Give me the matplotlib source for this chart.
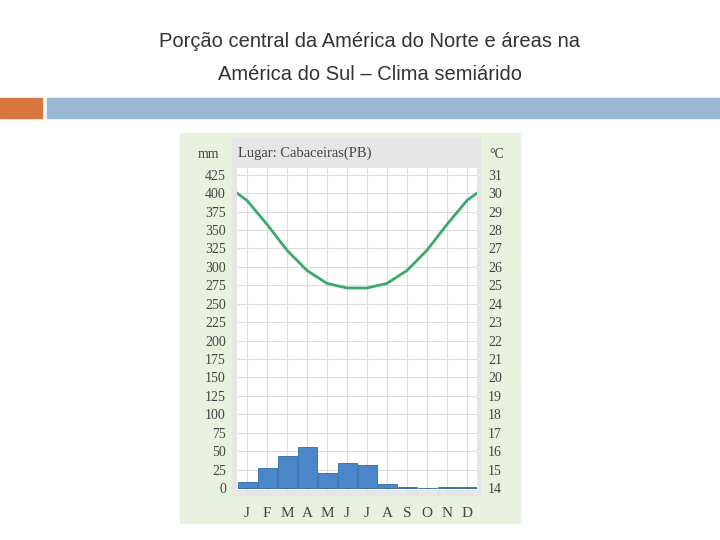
import matplotlib
matplotlib.use("Agg")
import matplotlib.pyplot as plt
from matplotlib.patches import Rectangle
import numpy as np

months = ["J", "F", "M", "A", "M", "J", "J", "A", "S", "O", "N", "D"]
precip = [8, 27, 44, 55, 20, 34, 31, 6, 2, 0, 1, 2]
temp_x = [-0.5, 0, 1, 2, 3, 4, 5, 6, 7, 8, 9, 10, 11, 11.5]
temp = [30.0, 29.6, 28.3, 26.9, 25.8, 25.1, 24.85, 24.85, 25.1, 25.8, 26.9, 28.3, 29.6, 30.0]
mm_ticks = list(range(0, 426, 25))
c_ticks = list(range(14, 32))

W, H = 720, 540
fig = plt.figure(figsize=(7.2, 5.4), dpi=100)
fig.patch.set_facecolor("white")

def fx(x): return x / W
def fy(y): return 1 - y / H

def rect(x0, y1, w, h, color):
    fig.patches.append(Rectangle((fx(x0), fy(y1)), fx(w), h / H, transform=fig.transFigure,
                                 color=color, zorder=-5))

fig.text(fx(370), fy(42), "Porção central da América do Norte e áreas na", ha="center", va="center",
         fontsize=14.5, color="#333333", family="Liberation Sans")
fig.text(fx(370), fy(75), "América do Sul – Clima semiárido", ha="center", va="center",
         fontsize=14.5, color="#333333", family="Liberation Sans")
rect(0, 118, 42, 20, "#d9763f")
rect(47, 118, 673, 20, "#9ab7d3")
rect(180, 523, 340, 390, "#e9f1df")
rect(232, 495, 248, 358, "#e6e6e6")

ax = fig.add_axes([fx(237), fy(490), fx(240), (490 - 168) / H])
ax.set_zorder(1)
ax.set_facecolor("white")
x = np.arange(12)
ax.bar(x, precip, width=0.95, color="#4a86c8", edgecolor="#2f6aa8", linewidth=0.6, zorder=3)
ax.set_xlim(-0.5, 11.5)
ax.set_ylim(-2.7, 434)
ax.set_yticks(mm_ticks)
ax.set_xticks(x)
ax.set_xticklabels(months)
ax.grid(True, color="#dddddd", linewidth=0.8, zorder=0)
for s in ax.spines.values():
    s.set_visible(False)
ax.tick_params(length=0, labelsize=10, colors="#444444", pad=8)
for t in ax.get_yticklabels() + ax.get_xticklabels():
    t.set_family("Liberation Serif")
ax.tick_params(axis="x", pad=12, labelsize=11)

ax2 = ax.twinx()
lo = 14 - 2.7 * (17 / 425)
hi = 14 + 434 * (17 / 425)
ax2.set_ylim(lo, hi)
ax2.set_yticks(c_ticks)
ax2.plot(temp_x, temp, color="#3aaa6a", linewidth=2, zorder=4)
for s in ax2.spines.values():
    s.set_visible(False)
ax2.tick_params(length=0, labelsize=10, colors="#444444", pad=8)
for t in ax2.get_yticklabels():
    t.set_family("Liberation Serif")

fig.text(fx(208), fy(154), "mm", ha="center", va="center", fontsize=10, family="Liberation Serif", color="#444444")
fig.text(fx(497), fy(154), "°C", ha="center", va="center", fontsize=10, family="Liberation Serif", color="#444444")
fig.text(fx(238), fy(153), "Lugar: Cabaceiras(PB)", ha="left", va="center", fontsize=10.5,
         family="Liberation Serif", color="#444444")

fig.savefig("out.png", dpi=100)
